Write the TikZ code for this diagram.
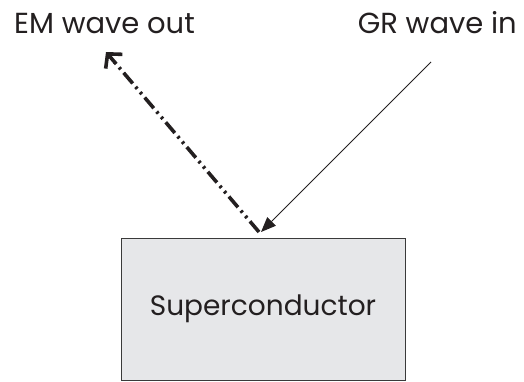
\documentclass[tikz,border=0pt]{standalone}
\usepackage{fontspec}
\setmainfont{Poppins}
\usetikzlibrary{arrows.meta,calc}
\definecolor{scgray}{HTML}{E6E7E9}
\definecolor{scedge}{HTML}{3A3A3A}
\definecolor{inkgray}{HTML}{231F20}
\tikzset{
  wavelbl/.style={font=\fontsize{29}{34}\selectfont, text=inkgray, inner sep=0pt},
  emwave/.style={line width=3.6pt, inkgray, dash pattern=on 14pt off 4.5pt on 2.5pt off 4.5pt on 2.5pt off 4.5pt},
  emhead/.style={line width=3.6pt, inkgray, -{Straight Barb[length=10pt,width=22pt]}},
  grwave/.style={line width=1pt, inkgray, -{Triangle[length=15pt,width=12pt]}}
}
\begin{document}
\begin{tikzpicture}[x=1pt,y=-1pt]
\useasboundingbox (0,0) rectangle (524,381);
\node[draw=scedge, line width=1pt, fill=scgray, minimum width=284pt, minimum height=142pt,
  font=\fontsize{28}{32}\selectfont, text=inkgray] (sc) at (263,309) {Superconductor};
\node[wavelbl, anchor=base west] (emlbl) at (14,33) {EM wave out};
\node[wavelbl, anchor=base east] (grlbl) at (517,33) {GR wave in};
\coordinate (emtail) at (259,232);
\coordinate (emtip) at (106,52);
\coordinate (grtail) at (431,62);
\coordinate (grtip) at (261,232);
\draw[emwave, shorten >=9pt] (emtail) -- (emtip);
\draw[emhead] ($(emtip)!14pt!(emtail)$) -- (emtip);
\draw[grwave] (grtail) -- (grtip);
\end{tikzpicture}
\end{document}
